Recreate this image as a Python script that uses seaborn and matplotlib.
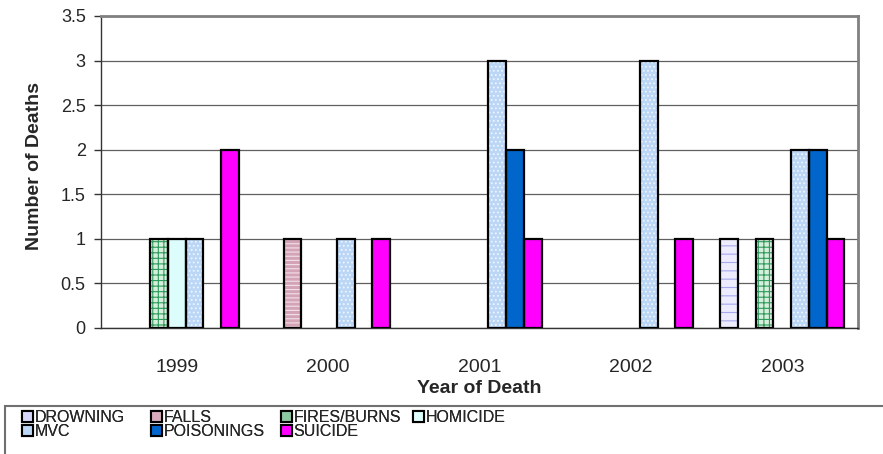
import numpy as np
import pandas as pd
import matplotlib
matplotlib.use("Agg")
import matplotlib.pyplot as plt
from matplotlib.patches import Rectangle
import seaborn as sns

years = ["1999", "2000", "2001", "2002", "2003"]
causes = ["DROWNING", "FALLS", "FIRES/BURNS", "HOMICIDE", "MVC", "POISONINGS", "SUICIDE"]
drowning = [0, 0, 0, 0, 1]
falls = [0, 1, 0, 0, 0]
fires_burns = [1, 0, 0, 0, 1]
homicide = [1, 0, 0, 0, 0]
mvc = [1, 1, 3, 3, 2]
poisonings = [0, 0, 2, 0, 2]
suicide = [2, 1, 1, 1, 1]

series = [drowning, falls, fires_burns, homicide, mvc, poisonings, suicide]
rows = []
for c, vals in zip(causes, series):
    for y, v in zip(years, vals):
        rows.append({"year": y, "cause": c, "deaths": v})
df = pd.DataFrame(rows)

# face colour, hatch, hatch colour, legend colour
styles = {
    "DROWNING": ("#ECECFE", "--", "#A8A8F0", "#D6D6FA"),
    "FALLS": ("#D4A4B6", "----", "#F2E0E8", "#D8AABC"),
    "FIRES/BURNS": ("#D6EEDC", "+++", "#2E9A5C", "#8CC8A0"),
    "HOMICIDE": ("#DDFCFC", None, None, "#DDFCFC"),
    "MVC": ("#BCD6F6", "....", "#EEF6FF", "#BCD6F6"),
    "POISONINGS": ("#0066CC", None, None, "#0066CC"),
    "SUICIDE": ("#FF00FF", None, None, "#FF00FF"),
}
palette = {c: styles[c][0] for c in causes}

sns.set_style("white")
plt.rcParams["font.family"] = ["Liberation Sans", "DejaVu Sans"]
plt.rcParams["hatch.linewidth"] = 0.8

fig = plt.figure(figsize=(8.83, 4.54), dpi=100)
W, H = 883, 454
ax = fig.add_axes([101 / W, 1 - 328 / H, (858 - 101) / W, (328 - 16) / H])

sns.barplot(data=df, x="year", y="deaths", hue="cause", order=years,
            hue_order=causes, palette=palette, width=0.82, dodge=True,
            ax=ax, legend=False, saturation=1, linewidth=0)

n_years = len(years)
for i, patch in enumerate(list(ax.patches)):
    cause = causes[i // n_years]
    face, hatch, hcol, _ = styles[cause]
    h = patch.get_height()
    if h == 0:
        patch.set_visible(False)
        continue
    if hatch:
        patch.set_hatch(hatch)
        patch.set_edgecolor(hcol)
        patch.set_linewidth(0)
    ax.add_patch(Rectangle(patch.get_xy(), patch.get_width(), h, fill=False,
                           edgecolor="black", linewidth=1.6, zorder=3))

ax.set_ylim(0, 3.5)
ax.set_xlim(-0.5, 4.5)
ax.set_yticks(np.arange(0, 3.51, 0.5))
ax.set_yticklabels(["0", "0.5", "1", "1.5", "2", "2.5", "3", "3.5"])
ax.yaxis.grid(True, color="#606060", linewidth=0.9)
ax.set_axisbelow(True)
ax.set_xticks(range(5))
ax.set_xticks(np.arange(-0.5, 4.6, 1), minor=True)
ax.tick_params(axis="x", which="major", length=0, labelsize=14, pad=22)
ax.tick_params(axis="x", which="minor", length=5, width=1, color="#333333", direction="out")
ax.tick_params(axis="y", which="major", length=5, width=1, color="#333333",
               direction="out", labelsize=13, left=True, pad=6)
ax.set_xlabel("Year of Death", fontsize=14, fontweight="bold", labelpad=3)
ax.set_ylabel("Number of Deaths", fontsize=14, fontweight="bold")
ax.yaxis.set_label_coords(-0.076, (328 - 166) / 312)
for s in ["top", "right"]:
    ax.spines[s].set_color("#808080")
    ax.spines[s].set_linewidth(2)
for s in ["left", "bottom"]:
    ax.spines[s].set_color("#333333")
    ax.spines[s].set_linewidth(1)

# legend (four columns, laid out row-wise like the original)
handles = {}
for c in causes:
    handles[c] = Rectangle((0, 0), 1, 1, facecolor=styles[c][3], edgecolor="black",
                           linewidth=1.5)
fig.patches.append(Rectangle((5 / W, -0.05), 1.0, 1.05 - 406 / H, transform=fig.transFigure,
                             fill=False, edgecolor="#707070", linewidth=1.5, figure=fig))
columns = [["DROWNING", "MVC"], ["FALLS", "POISONINGS"], ["FIRES/BURNS", "SUICIDE"], ["HOMICIDE"]]
col_x = [22, 151, 281, 413]
for names, x0 in zip(columns, col_x):
    leg = fig.legend([handles[c] for c in names], names, loc="upper left",
                     bbox_to_anchor=(x0 / W, 1 - 410 / H), frameon=False,
                     prop={"family": ["Liberation Sans"], "size": 11.5},
                     handlelength=0.66, handleheight=0.66, handletextpad=0.12,
                     labelspacing=-0.05, borderpad=0.0, borderaxespad=0.0)
    fig.add_artist(leg)

fig.savefig("out.png", dpi=100)
